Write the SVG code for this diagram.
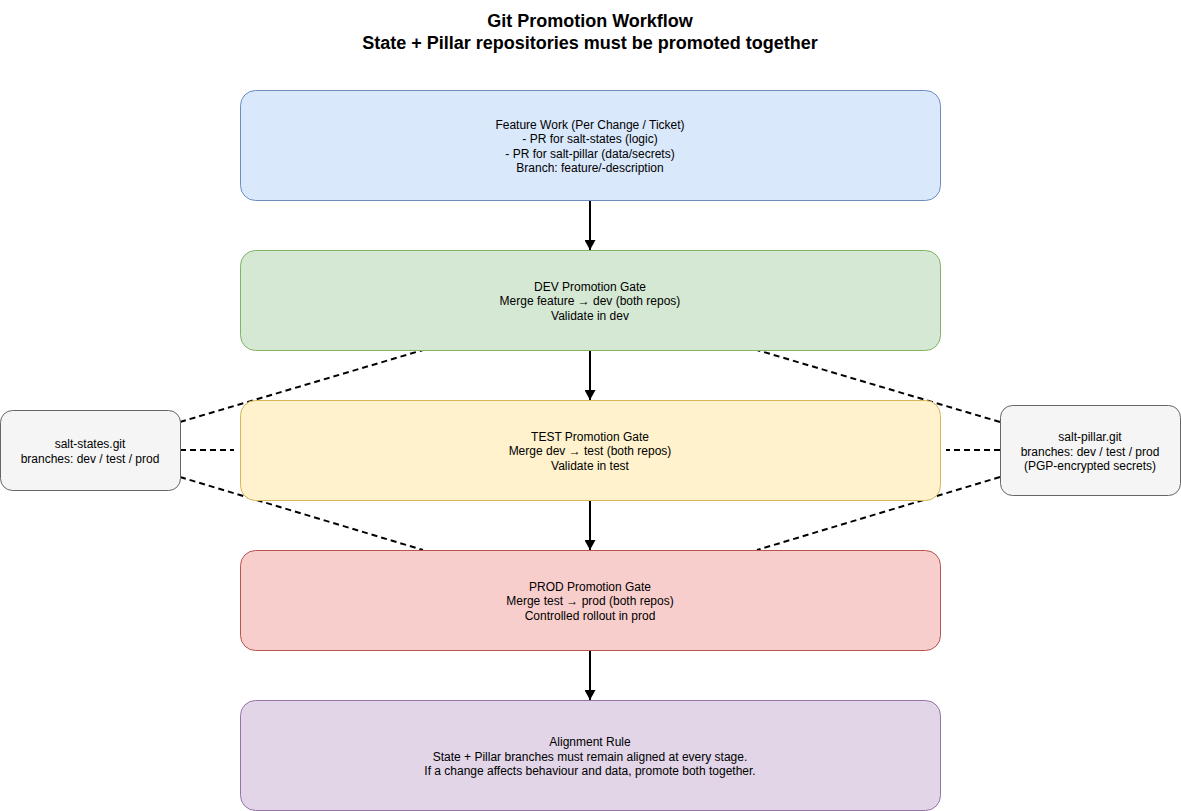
<svg xmlns="http://www.w3.org/2000/svg" width="1181" height="811" viewBox="0 0 1181 811">
<defs>
<style>
text{font-family:"Liberation Sans",Arial,Helvetica,sans-serif;font-size:12px;fill:#000;text-anchor:middle}
.title{font-size:18px;font-weight:bold}
.dash{stroke:#000;stroke-width:2;stroke-dasharray:6 4;fill:none}
.arr{stroke:#000;stroke-width:2;fill:none}
</style>
<marker id="ah" markerWidth="10" markerHeight="11" refX="10" refY="5.5" orient="auto" markerUnits="userSpaceOnUse" viewBox="0 0 10 11">
<path d="M0,0 L10,5.5 L0,11 Z" fill="#000"/>
</marker>
</defs>
<rect width="1181" height="811" fill="#fff"/>
<g id="title">
<text class="title" x="590" y="27">Git Promotion Workflow</text>
<text class="title" x="590" y="49">State + Pillar repositories must be promoted together</text>
</g>
<g id="connectors">
<path class="dash" d="M180,422 L423,350"/>
<path class="dash" d="M180,450 L234,450"/>
<path class="dash" d="M180,477 L423,550"/>
<path class="dash" d="M1000,422 L757,350"/>
<path class="dash" d="M1000,450 L946,450"/>
<path class="dash" d="M1000,477 L757,550"/>
<path class="arr" d="M590,200 L590,250" marker-end="url(#ah)"/>
<path class="arr" d="M590,350 L590,400" marker-end="url(#ah)"/>
<path class="arr" d="M590,500 L590,550" marker-end="url(#ah)"/>
<path class="arr" d="M590,650 L590,700" marker-end="url(#ah)"/>
</g>
<g id="feature">
<rect x="240.5" y="90.5" width="700" height="110" rx="15" fill="#dae8fc" stroke="#6c8ebf"/>
<text x="590" y="129">Feature Work (Per Change / Ticket)</text>
<text x="590" y="143">- PR for salt-states (logic)</text>
<text x="590" y="158">- PR for salt-pillar (data/secrets)</text>
<text x="590" y="172">Branch: feature/-description</text>
</g>
<g id="dev">
<rect x="240.5" y="250.5" width="700" height="100" rx="15" fill="#d5e8d4" stroke="#82b366"/>
<text x="590" y="291">DEV Promotion Gate</text>
<text x="590" y="305">Merge feature → dev (both repos)</text>
<text x="590" y="320">Validate in dev</text>
</g>
<g id="test">
<rect x="240.5" y="400.5" width="700" height="100" rx="15" fill="#fff2cc" stroke="#d6b656"/>
<text x="590" y="441">TEST Promotion Gate</text>
<text x="590" y="455">Merge dev → test (both repos)</text>
<text x="590" y="470">Validate in test</text>
</g>
<g id="prod">
<rect x="240.5" y="550.5" width="700" height="100" rx="15" fill="#f8cecc" stroke="#b85450"/>
<text x="590" y="591">PROD Promotion Gate</text>
<text x="590" y="605">Merge test → prod (both repos)</text>
<text x="590" y="620">Controlled rollout in prod</text>
</g>
<g id="alignment">
<rect x="240.5" y="700.5" width="700" height="110" rx="15" fill="#e1d5e7" stroke="#9673a6"/>
<text x="590" y="746">Alignment Rule</text>
<text x="590" y="761">State + Pillar branches must remain aligned at every stage.</text>
<text x="590" y="775">If a change affects behaviour and data, promote both together.</text>
</g>
<g id="salt-states">
<rect x="0.5" y="410.5" width="180" height="80" rx="12" fill="#f5f5f5" stroke="#666666"/>
<text x="90" y="448">salt-states.git</text>
<text x="90" y="463">branches: dev / test / prod</text>
</g>
<g id="salt-pillar">
<rect x="1000.5" y="405.5" width="180" height="90" rx="12" fill="#f5f5f5" stroke="#666666"/>
<text x="1090" y="441">salt-pillar.git</text>
<text x="1090" y="456">branches: dev / test / prod</text>
<text x="1090" y="470">(PGP-encrypted secrets)</text>
</g>
</svg>
